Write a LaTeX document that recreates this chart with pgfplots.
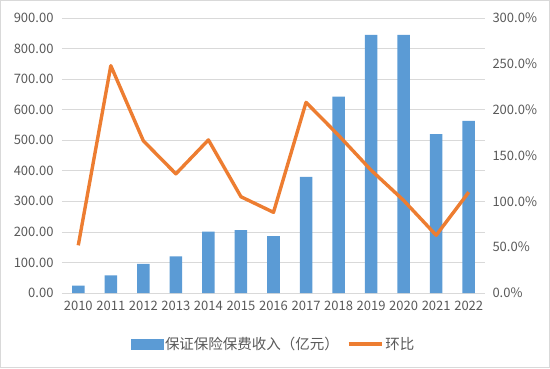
\documentclass[border=0pt]{standalone}
\usepackage{fontspec}
\setmainfont{Noto Sans CJK SC}
\usepackage{pgfplots}
\usepackage{pgfplotstable}
\pgfplotsset{compat=1.18}
\definecolor{barblue}{HTML}{5B9BD5}
\definecolor{lineorange}{HTML}{ED7D31}
\definecolor{txtgray}{HTML}{595959}
\definecolor{gridgray}{HTML}{D9D9D9}
\newcommand{\fs}{\fontsize{13}{15}\selectfont}
\newcommand{\fsl}{\fontsize{14.5}{16}\selectfont}

\pgfplotstableread{
x val rate
0 24 52
1 58 248
2 95 166
3 120 130
4 201 167
5 206 105
6 186 88
7 380 208
8 643 172
9 845 134
10 845 101
11 520 63
12 563 110
}\data

\begin{document}
\begin{tikzpicture}[x=1pt,y=1pt]
\draw[gridgray, line width=1pt] (0.5,0.5) rectangle (549.5,367.5);
\begin{axis}[
  at={(62pt,75pt)}, anchor=south west,
  scale only axis, width=423pt, height=275pt,
  xmin=-0.5, xmax=12.5, ymin=0, ymax=900,
  axis x line*=bottom, axis y line*=left,
  x axis line style={gridgray, line width=0.75pt},
  y axis line style={draw=none},
  xtick={0,...,12},
  xticklabels={2010,2011,2012,2013,2014,2015,2016,2017,2018,2019,2020,2021,2022},
  ytick={0,100,...,900},
  ymajorgrids, grid style={gridgray, line width=0.75pt},
  major tick length=0pt,
  tick label style={font=\fs, text=txtgray},
  xticklabel style={yshift=-5pt},
  yticklabel style={xshift=-5pt},
  yticklabel={\pgfmathprintnumber[fixed,fixed zerofill,precision=2,assume math mode=true]{\tick}},
]
\addplot[ybar, bar width=0.385, fill=barblue, draw=none, bar shift=0pt] table[x=x,y=val]{\data};
\end{axis}
\begin{axis}[
  at={(62pt,75pt)}, anchor=south west,
  scale only axis, width=423pt, height=275pt,
  xmin=-0.5, xmax=12.5, ymin=0, ymax=300,
  axis x line=none, axis y line*=right,
  y axis line style={draw=none},
  ytick={0,50,...,300},
  major tick length=0pt,
  tick label style={font=\fs, text=txtgray},
  yticklabel style={xshift=4pt},
  yticklabel={\pgfmathprintnumber[fixed,fixed zerofill,precision=1,assume math mode=true]{\tick}\%},
  legend style={at={(0.5,-0.185)}, anchor=center, draw=none, fill=none, font=\fsl, text=txtgray,
    /tikz/every even column/.append style={column sep=6pt}},
  legend columns=2,
]
\addlegendimage{legend image code/.code={\fill[barblue] (0pt,-5pt) rectangle (32pt,5pt);}}
\addlegendentry{保证保险保费收入（亿元）}
\addplot[lineorange, line width=3.4pt, line join=round,
  legend image code/.code={\draw[lineorange,line width=3.4pt] (0pt,0pt) -- (33pt,0pt);}]
  table[x=x,y=rate]{\data};
\addlegendentry{环比}
\end{axis}
\end{tikzpicture}
\end{document}
